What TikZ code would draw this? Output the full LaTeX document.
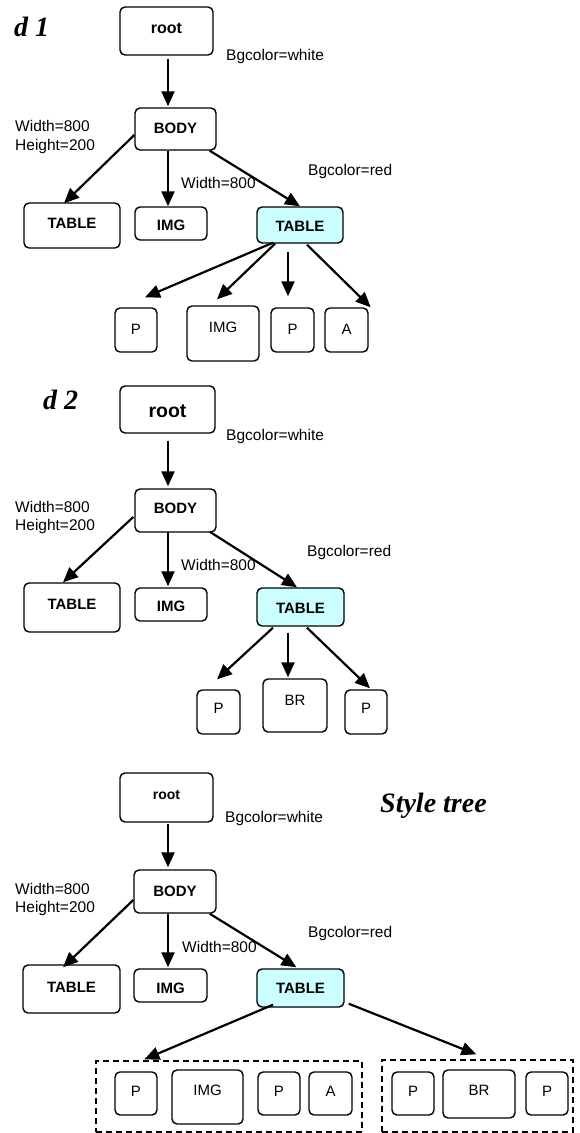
\documentclass[tikz,border=0pt]{standalone}
\usepackage{fontspec}
\setmainfont{Liberation Sans}
\newfontfamily\titlefont{Liberation Serif}
\usetikzlibrary{arrows.meta,calc}
\definecolor{hlcyan}{RGB}{204,255,255}
\tikzset{
  bx/.style={draw, line width=1.4pt, rounded corners=5pt, inner sep=0pt,
    text height=10.7pt, text depth=0pt, font=\fontsize{15}{15}\selectfont\bfseries},
  lf/.style={bx, font=\fontsize{15}{15}\selectfont},
  hl/.style={fill=hlcyan},
  grp/.style={draw, dashed, dash pattern=on 6pt off 4pt, line width=1.3pt, inner sep=0pt},
  ann/.style={anchor=base west, inner sep=0pt, font=\fontsize{15.5}{16}\selectfont},
  ttl/.style={anchor=base west, inner sep=0pt, font=\fontsize{28}{28}\selectfont\titlefont\bfseries\itshape},
  arr/.style={line width=2.2pt, -{Triangle[length=15pt,width=13pt]}}
}
\begin{document}
\begin{tikzpicture}[x=1pt,y=-1pt]
\useasboundingbox (0,0) rectangle (579,1133);

% ---------------- d 1 ----------------
\node[ttl] (t1) at (14,36) {d 1};
\node[bx, minimum width=93, minimum height=48, font=\fontsize{16}{16}\selectfont\bfseries, text height=11.4pt, text depth=7pt] (r1) at (166.5,31) {root};
\node[bx, minimum width=81, minimum height=42, text depth=2.7pt] (b1) at (175.5,129) {BODY};
\node[bx, minimum width=96, minimum height=45, text depth=5.7pt] (tl1) at (72,225.5) {TABLE};
\node[bx, minimum width=72, minimum height=33, text height=14.4pt] (im1) at (171,223.5) {IMG};
\node[bx, hl, minimum width=86, minimum height=36, text height=13.4pt] (tc1) at (300,225) {TABLE};
\node[lf, minimum width=42, minimum height=44, text depth=2.7pt] (p1) at (136,330) {P};
\node[lf, minimum width=72, minimum height=55, text depth=13.7pt] (ic1) at (223,333.5) {IMG};
\node[lf, minimum width=43, minimum height=44, text depth=2.7pt] (p2) at (292.5,330) {P};
\node[lf, minimum width=43, minimum height=44, text depth=2.7pt] (a1) at (346.5,330) {A};

\node[ann] (n1a) at (226,60) {Bgcolor=white};
\node[ann] (n1b) at (15,131.5) {Width=800};
\node[ann] (n1c) at (15,150) {Height=200};
\node[ann] (n1d) at (181,188) {Width=800};
\node[ann] (n1e) at (308,175) {Bgcolor=red};

\draw[arr] ($(r1.south)+(1.5,3)$) -- ($(b1.north)+(-7.5,-1)$);
\draw[arr] ($(b1.west)+(0,6)$) -- ($(tl1.north)+(-8,1)$);
\draw[arr] ($(b1.south)+(-7.5,0)$) -- ($(im1.north)+(-3,0)$);
\draw[arr] ($(b1.south east)+(-7,0)$) -- (tc1.north);
\draw[arr] ($(tc1.south)+(-27,-1)$) -- ($(p1.north)+(9,-10)$);
\draw[arr] ($(tc1.south)+(-25,0)$) -- ($(ic1.north)+(-6,-6)$);
\draw[arr] ($(tc1.south)+(-12,8)$) -- ($(p2.north)+(-4.5,-11)$);
\draw[arr] ($(tc1.south)+(7,1)$) -- ($(a1.north east)+(2,0)$);

% ---------------- d 2 ----------------
\node[ttl] (t2) at (43,409) {d 2};
\node[bx, minimum width=95, minimum height=47, font=\fontsize{19.5}{19.5}\selectfont\bfseries, text height=15pt] (r2) at (167.5,409.5) {root};
\node[bx, minimum width=81, minimum height=43, text depth=5pt] (b2) at (175.5,510.5) {BODY};
\node[bx, minimum width=96, minimum height=49, text depth=7.7pt] (tl2) at (72,607.5) {TABLE};
\node[bx, minimum width=72, minimum height=33, text height=14.3pt] (im2) at (171,604.5) {IMG};
\node[bx, hl, minimum width=87, minimum height=38, text height=12.7pt] (tc2) at (300.5,607) {TABLE};
\node[lf, minimum width=43, minimum height=44, text depth=8pt] (p3) at (218.5,712) {P};
\node[lf, minimum width=64, minimum height=53, text depth=11.7pt] (br1) at (295,705.5) {BR};
\node[lf, minimum width=42, minimum height=44, text depth=8pt] (p4) at (366,712) {P};

\node[ann] (n2a) at (226,440.7) {Bgcolor=white};
\node[ann] (n2b) at (15,512.7) {Width=800};
\node[ann] (n2c) at (15,530.7) {Height=200};
\node[ann] (n2d) at (181,570) {Width=800};
\node[ann] (n2e) at (307,556) {Bgcolor=red};

\draw[arr] ($(r2.south)+(0.5,7)$) -- ($(b2.north)+(-7.5,-2)$);
\draw[arr] ($(b2.west)+(-1,6.5)$) -- ($(tl2.north)+(-9,0)$);
\draw[arr] ($(b2.south)+(-7.5,-1)$) -- ($(im2.north)+(-3,-1)$);
\draw[arr] ($(b2.south east)+(-7,-1)$) -- ($(tc2.north)+(-3.5,0)$);
\draw[arr] ($(tc2.south)+(-27.5,1)$) -- ($(p3.north)+(-1.5,-10)$);
\draw[arr] ($(tc2.south)+(-12.5,6)$) -- ($(br1.north)+(-7,-1)$);
\draw[arr] ($(tc2.south)+(6.5,1)$) -- ($(p4.north)+(4,-1)$);

% ---------------- Style tree ----------------
\node[ttl] (t3) at (380,812) {Style tree};
\node[bx, minimum width=93, minimum height=49, font=\fontsize{14}{14}\selectfont\bfseries, text height=10pt, text depth=7pt] (r3) at (166.5,797.5) {root};
\node[bx, minimum width=82, minimum height=43, text depth=1.7pt] (b3) at (175,891.5) {BODY};
\node[bx, minimum width=97, minimum height=48, text depth=4.7pt] (tl3) at (71.5,989) {TABLE};
\node[bx, minimum width=73, minimum height=33, text height=15pt] (im3) at (170.5,985.5) {IMG};
\node[bx, hl, minimum width=87, minimum height=38] (tc3) at (300.5,988) {TABLE};

\node[grp, minimum width=266, minimum height=71] (g1) at (229,1096.5) {};
\node[grp, minimum width=191, minimum height=72] (g2) at (477.5,1096) {};

\node[lf, minimum width=42, minimum height=43, text depth=4.4pt] (p5) at (136,1093.5) {P};
\node[lf, minimum width=71, minimum height=54, text depth=14.7pt] (ic2) at (207.5,1097) {IMG};
\node[lf, minimum width=42, minimum height=43, text depth=4.4pt] (p6) at (279,1093.5) {P};
\node[lf, minimum width=43, minimum height=43, text depth=4.4pt] (a2) at (330.5,1093.5) {A};
\node[lf, minimum width=42, minimum height=43, text depth=4.4pt] (p7) at (413,1093.5) {P};
\node[lf, minimum width=72, minimum height=48, text depth=8.7pt] (br2) at (479,1094) {BR};
\node[lf, minimum width=42, minimum height=43, text depth=4.4pt] (p8) at (547,1093.5) {P};

\node[ann] (n3a) at (225,822.7) {Bgcolor=white};
\node[ann] (n3b) at (15,894) {Width=800};
\node[ann] (n3c) at (15,912) {Height=200};
\node[ann] (n3d) at (182,952) {Width=800};
\node[ann] (n3e) at (308,937) {Bgcolor=red};

\draw[arr] ($(r3.south)+(1.5,1)$) -- ($(b3.north)+(-7,-2)$);
\draw[arr] ($(b3.west)+(0,8.5)$) -- ($(tl3.north)+(-8.5,3)$);
\draw[arr] ($(b3.south)+(-7,0)$) -- ($(im3.north)+(-2.5,-1)$);
\draw[arr] ($(b3.south east)+(-7,0)$) -- ($(tc3.north)+(-4,-1)$);
\draw[arr] ($(tc3.south)+(-27.5,-3)$) -- ($(g1.north west)+(49,-1)$);
\draw[arr] ($(tc3.south east)+(4,-4)$) -- ($(g2.north west)+(95,-5)$);
\end{tikzpicture}
\end{document}
